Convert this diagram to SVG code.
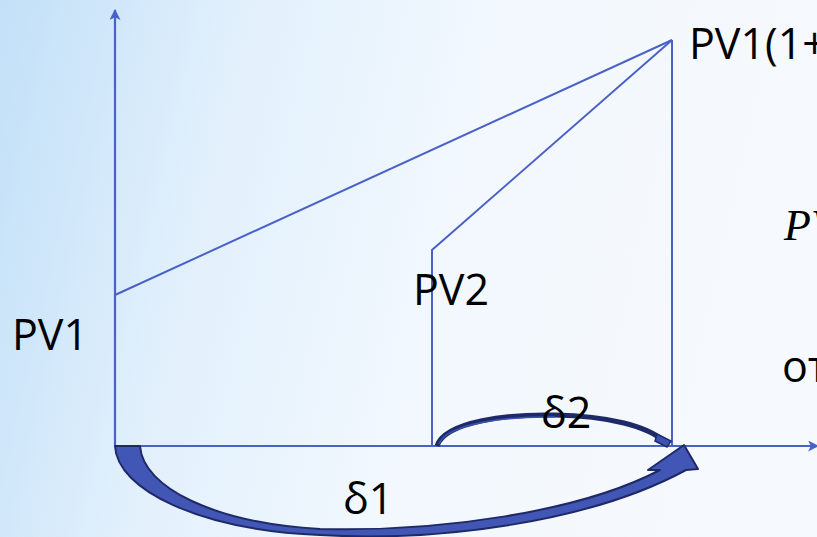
<svg xmlns="http://www.w3.org/2000/svg" width="817" height="537" viewBox="0 0 817 537">
<defs>
<linearGradient id="bg" x1="0" y1="0" x2="1" y2="0.15">
<stop offset="0" stop-color="#c2e0f8"/>
<stop offset="0.3" stop-color="#e2f0fc"/>
<stop offset="0.6" stop-color="#f2f8fe"/>
<stop offset="1" stop-color="#f6f9fd"/>
</linearGradient>
<marker id="ah" viewBox="0 0 10 10" refX="9" refY="5" markerWidth="5" markerHeight="5" orient="auto" markerUnits="strokeWidth">
<path d="M0,0 L10,5 L0,10 L2.5,5 Z" fill="#4a62c8"/>
</marker>
<style>
.ln{stroke:#4a62c8;stroke-width:2;fill:none}
.ax{stroke:#4a62c8;stroke-width:2.2;fill:none}
.t{font-family:"Open Sans","Noto Sans","Liberation Sans",sans-serif;font-size:43px;fill:#000}
.m{font-family:"Liberation Serif",serif;font-style:italic;font-size:44px;fill:#000}
.arr{fill:#4257b5;stroke:#1e2a68;stroke-width:2;stroke-linejoin:round}
</style>
</defs>
<rect width="817" height="537" fill="url(#bg)"/>
<g id="connectors">
<line id="y-axis" class="ax" x1="115" y1="446" x2="115" y2="10" marker-end="url(#ah)"/>
<line id="x-axis" class="ax" x1="115" y1="446" x2="818" y2="446" marker-end="url(#ah)"/>
<polyline id="pv1-line" class="ln" points="115,295 672,40"/>
<polyline id="pv2-line" class="ln" points="432,446 432,250 672,40"/>
<line id="fv-line" class="ln" x1="672" y1="40" x2="672" y2="446"/>
</g>
<g id="delta1-arrow">
<path class="arr" d="M115,446 C117,490 200,530 320,535 C440,542 590,522 686,470 L698,469 L684,445 L648,470 L660,470 C580,512 440,532 320,529 C215,523 143,488 140,446 Z"/>
</g>
<g id="delta2-arrow">
<path d="M437,446 C445,421 510,414 555,415 C610,416 648,427 662,440" fill="none" stroke="#1e2a68" stroke-width="5" stroke-linecap="butt"/>
<path d="M439,444 C447,423 510,416 555,417" fill="none" stroke="#3d52b0" stroke-width="1.5"/>
<polygon points="657,434 671,441 667,447 655,441" fill="#3d52b0" stroke="#1e2a68" stroke-width="1.5"/>
</g>
<g id="label-pv1"><text class="t" x="12" y="350">PV1</text></g>
<g id="label-pv2"><text class="t" x="413" y="305">PV2</text></g>
<g id="label-fv"><text class="t" x="689" y="59">PV1(1+</text></g>
<g id="label-p"><text class="m" x="784" y="240">PV</text></g>
<g id="label-ot"><text class="t" x="782" y="382">от</text></g>
<g id="label-d2"><text class="t" x="541" y="428">δ2</text></g>
<g id="label-d1"><text class="t" x="343" y="514">δ1</text></g>
</svg>
